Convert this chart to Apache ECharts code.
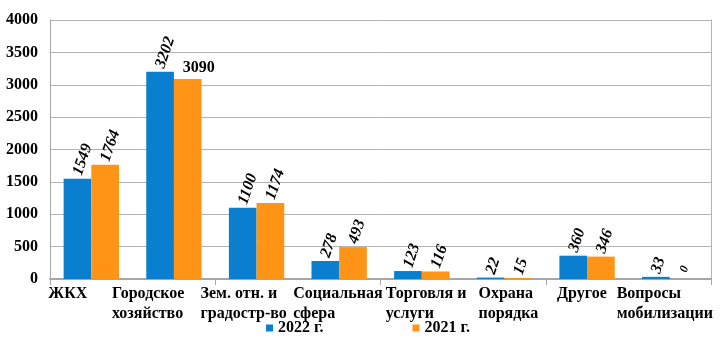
<!DOCTYPE html>
<html>
<head>
<meta charset="utf-8">
<script src="https://cdn.jsdelivr.net/npm/echarts@6/dist/echarts.min.js"></script>
<style>
  html, body { margin: 0; padding: 0; background: #fff; }
  #chart { width: 722px; height: 345px; }
</style>
</head>
<body>
<div id="chart"></div>
<script>
// Обращения граждан по тематике, 2022 г. и 2021 г.
const categories = [
  'ЖКХ',
  'Городское\nхозяйство',
  'Зем. отн. и\nградостр-во',
  'Социальная\nсфера',
  'Торговля и\nуслуги',
  'Охрана\nпорядка',
  'Другое',
  'Вопросы\nмобилизации'
];
const values2022 = [1549, 3202, 1100, 278, 123, 22, 360, 33];
const values2021 = [1764, 3090, 1174, 493, 116, 15, 346, 0];
const seriesNames = ['2022 г.', '2021 г.'];
const yTicks = [0, 500, 1000, 1500, 2000, 2500, 3000, 3500, 4000];

// horizontal shift of each category caption from its category centre
const captionShift = [-43, -62, -56, -46, -36, -26, -30, -53];

const FONT = '"Liberation Serif", "Times New Roman", serif';
const BLUE = '#0a7fd0';
const ORANGE = '#ff9416';

const chart = echarts.init(document.getElementById('chart'), null, { renderer: 'canvas' });

const rotLabel = {
  show: true,
  position: 'top',
  distance: 4,
  rotate: 71,
  align: 'left',
  verticalAlign: 'middle',
  fontFamily: FONT,
  fontWeight: 'bold',
  fontStyle: 'italic',
  fontSize: 16,
  color: '#000'
};

function seriesData(values, isOrange) {
  return values.map(function (v, i) {
    const item = { value: v };
    if (isOrange && i === 1) {
      item.label = {
        rotate: 0, align: 'center', verticalAlign: 'bottom',
        fontStyle: 'normal', offset: [11, 0], distance: 3
      };
    }
    if (v === 0) {
      item.label = { fontSize: 12, distance: 7 };
    }
    return item;
  });
}

chart.setOption({
  animation: false,
  backgroundColor: '#fff',
  grid: { left: 50, right: 11, top: 20, bottom: 66, containLabel: false },
  legend: {
    data: seriesNames,
    left: 266,
    top: 320,
    padding: 0,
    icon: 'rect',
    itemWidth: 7,
    itemHeight: 7,
    itemGap: 89,
    textStyle: { fontFamily: FONT, fontWeight: 'bold', fontSize: 16, color: '#000' }
  },
  xAxis: {
    type: 'category',
    data: categories,
    boundaryGap: true,
    axisLine: { show: true, lineStyle: { color: '#a6a6a6', width: 2 } },
    axisTick: { show: true, alignWithLabel: false, length: 6, lineStyle: { color: '#a6a6a6', width: 1 } },
    axisLabel: { show: false }
  },
  yAxis: [{
    type: 'value',
    min: 0,
    max: 4000,
    interval: 500,
    axisLine: { show: true, lineStyle: { color: '#a6a6a6', width: 1 } },
    axisTick: { show: false },
    axisLabel: {
      margin: 12,
      fontFamily: FONT, fontWeight: 'bold', fontSize: 16, color: '#000',
      formatter: function (v) { return yTicks.indexOf(v) >= 0 ? String(v) : ''; }
    },
    splitLine: { show: true, lineStyle: { color: '#b3b3b3', width: 1 } }
  }, {
    type: 'value',
    position: 'right',
    min: 0,
    max: 4000,
    interval: 500,
    axisLine: { show: true, lineStyle: { color: '#b3b3b3', width: 1 } },
    axisTick: { show: false },
    axisLabel: { show: false },
    splitLine: { show: false }
  }],
  series: [{
    name: seriesNames[0],
    type: 'bar',
    data: seriesData(values2022, false),
    barGap: '0%',
    barCategoryGap: '33%',
    itemStyle: { color: BLUE },
    label: rotLabel
  }, {
    name: seriesNames[1],
    type: 'bar',
    data: seriesData(values2021, true),
    barGap: '0%',
    barCategoryGap: '33%',
    itemStyle: { color: ORANGE },
    label: rotLabel
  }]
});

// category captions, left-aligned under each group
const captions = categories.map(function (name, i) {
  const cx = chart.convertToPixel({ xAxisIndex: 0 }, i);
  return {
    type: 'text',
    left: cx + captionShift[i],
    top: 284,
    style: {
      text: name,
      fontFamily: FONT,
      fontWeight: 'bold',
      fontSize: 16,
      lineHeight: 20,
      fill: '#000'
    }
  };
});
chart.setOption({ graphic: captions });
</script>
</body>
</html>
